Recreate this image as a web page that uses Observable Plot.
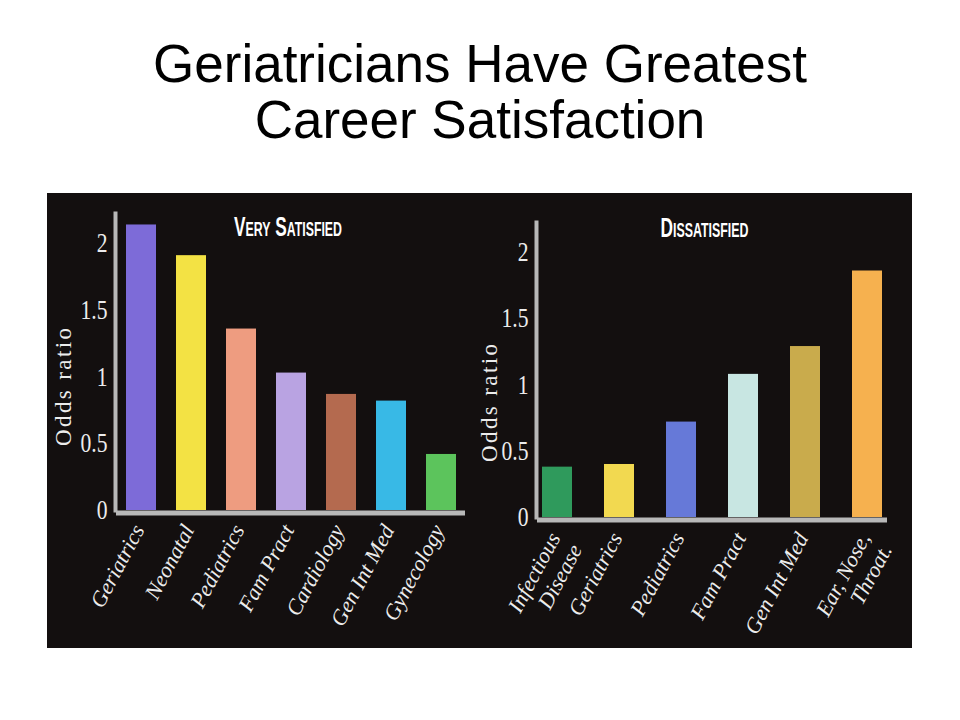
<!DOCTYPE html>
<html><head><meta charset="utf-8">
<script src="https://cdn.jsdelivr.net/npm/d3@7"></script>
<script src="https://cdn.jsdelivr.net/npm/@observablehq/plot@0.6"></script>
<style>
html,body{margin:0;padding:0;background:#fff;}
body{width:960px;height:720px;position:relative;overflow:hidden;}
#title{position:absolute;left:0;top:36px;width:960px;text-align:center;font-family:"Liberation Sans",Arial,sans-serif;font-size:53px;line-height:56px;color:#000;}
#panel{position:absolute;left:47px;top:193px;width:865px;height:455px;background:#130f0f;display:flex;}
#panel svg{display:block;}
</style></head><body>
<div id="title">Geriatricians Have Greatest<br>Career Satisfaction</div>
<div id="panel"><div id="left"></div><div id="right"></div></div>
<script>
// ---- data ----
const leftTitle = "Very Satisfied";
const leftCategories = ["Geriatrics","Neonatal","Pediatrics","Fam Pract","Cardiology","Gen Int Med","Gynecology"];
const leftValues = [2.14, 1.91, 1.36, 1.03, 0.87, 0.82, 0.42];
const leftColors = ["#7d6bd8","#f3e244","#ee9c80","#b9a3e2","#b46a4f","#38b9e6","#5cc45c"];

const rightTitle = "Dissatisfied";
const rightCategories = ["Infectious\nDisease","Geriatrics","Pediatrics","Fam Pract","Gen Int Med","Ear, Nose,\nThroat."];
const rightValues = [0.38, 0.40, 0.72, 1.08, 1.29, 1.86];
const rightColors = ["#2f9a5c","#f2d950","#6679d8","#c8e6e2","#c9ab4c","#f6b14f"];

const yTicks = [0, 0.5, 1, 1.5, 2];
const yLabel = "Odds ratio";

function chart(cfg) {
  const data = cfg.categories.map((c, i) => ({cat: c, value: cfg.values[i]}));
  const textColor = "#ececec";
  const axisColor = "#b8b8b8";
  const svg = Plot.plot({
    width: cfg.width, height: 455,
    marginLeft: cfg.marginLeft, marginRight: cfg.marginRight,
    marginTop: cfg.marginTop, marginBottom: cfg.marginBottom,
    style: {background: "transparent", color: textColor, fontFamily: "'Liberation Serif', 'Times New Roman', serif"},
    x: {domain: cfg.categories, axis: null, paddingInner: cfg.padIn, paddingOuter: cfg.padOut},
    y: {domain: [0, 2.226], axis: null},
    color: {domain: cfg.categories, range: cfg.colors},
    marks: [
      Plot.barY(data, {x: "cat", y: "value", fill: "cat"}),
      Plot.frame({anchor: "left", stroke: axisColor, strokeWidth: 4, dx: -1}),
      Plot.ruleY([0], {stroke: axisColor, strokeWidth: 5, dy: 2.5}),
      Plot.axisY({ticks: yTicks, tickSize: 0, tickPadding: 9, tickFormat: d => String(d), fontSize: 27, fill: textColor, label: null}),
      Plot.text(cfg.categories, {x: d => d, frameAnchor: "bottom", rotate: -62, textAnchor: "end", lineAnchor: "top",
        dx: -12, dy: cfg.labelDy, fontStyle: "italic", fontSize: 22, lineHeight: 1.12, fill: textColor}),
      Plot.text([yLabel], {frameAnchor: "left", textAnchor: "middle", lineAnchor: "middle", rotate: -90,
        dx: cfg.ylabDx, dy: cfg.ylabDy, fontSize: 23, fill: textColor}),
      Plot.text([cfg.title], {frameAnchor: "top", textAnchor: "middle", lineAnchor: "middle", dx: cfg.titleDx, dy: cfg.titleDy,
        fontFamily: "'Liberation Sans', Arial, sans-serif", fontWeight: "bold", fontVariant: "small-caps",
        fontSize: 28, fill: "#ffffff"})
    ]
  });
  const s = d3.select(svg);
  s.selectAll("text").filter(function() { return this.textContent === yLabel; })
    .attr("textLength", 118).attr("lengthAdjust", "spacing");
  s.selectAll("text").filter(function() { return this.textContent === cfg.title; })
    .attr("textLength", cfg.titleLength).attr("lengthAdjust", "spacingAndGlyphs");
  // condensed tick digits, as in the reference typeface
  s.selectAll('g[aria-label="y-axis tick label"] text').each(function() {
    const t = this.getAttribute("transform") || "";
    this.setAttribute("transform", t + " scale(0.8,1)");
  });
  return svg;
}

document.getElementById("left").append(chart({
  title: leftTitle, categories: leftCategories, values: leftValues, colors: leftColors,
  width: 425, marginLeft: 69, marginRight: 7, marginTop: 20, marginBottom: 138,
  padIn: 0.406, padOut: 0.14, labelDy: 11, ylabDx: -53, ylabDy: 25, titleDx: -3, titleDy: 14, titleLength: 108
}));
document.getElementById("right").append(chart({
  title: rightTitle, categories: rightCategories, values: rightValues, colors: rightColors,
  width: 440, marginLeft: 65, marginRight: 25, marginTop: 29, marginBottom: 131,
  padIn: 0.516, padOut: 0.08, labelDy: 12, ylabDx: -48, ylabDy: 33, titleDx: -8, titleDy: 6, titleLength: 88
}));
</script>
</body></html>
